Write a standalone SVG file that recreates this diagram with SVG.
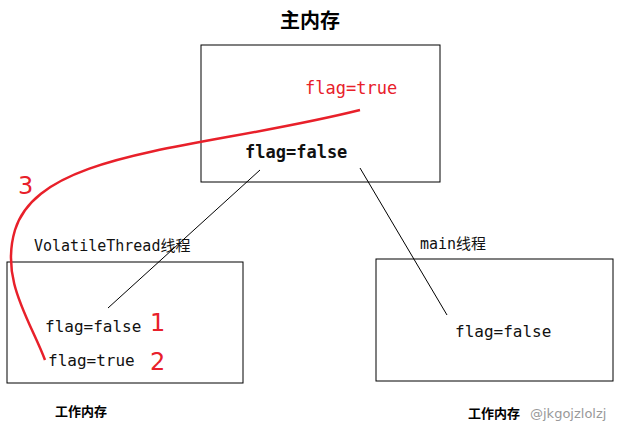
<svg xmlns="http://www.w3.org/2000/svg" width="623" height="432" viewBox="0 0 623 432">
<style>
.box{fill:none;stroke:#000;stroke-width:1}
.m{font-family:"DejaVu Sans Mono",monospace;font-size:17px;fill:#111}
.s{font-size:16px}
.c{font-family:"DejaVu Sans Mono","Noto Sans CJK SC",monospace;font-size:15px;fill:#111}
.r{fill:#e8202a}
.n{font-family:"DejaVu Sans",sans-serif;font-size:24px;fill:#e8202a}
</style>
<rect width="623" height="432" fill="#fff"/>
<g id="main-memory">
<text x="310" y="28" text-anchor="middle" font-family="Noto Sans CJK SC,sans-serif" font-weight="bold" font-size="20">主内存</text>
<rect class="box" x="201" y="45" width="239" height="137"/>
<text class="m r" x="305" y="94">flag=true</text>
<text class="m" x="245" y="158" font-weight="bold">flag=false</text>
</g>
<g id="volatile-thread">
<text class="c" x="34" y="251">VolatileThread线程</text>
<rect class="box" x="7" y="262" width="236" height="121"/>
<text class="m s" x="45" y="332">flag=false</text>
<text class="n" x="150" y="331">1</text>
<text class="m s" x="48" y="366">flag=true</text>
<text class="n" x="150" y="370">2</text>
<text x="55" y="416" font-family="Noto Sans CJK SC,sans-serif" font-weight="bold" font-size="13">工作内存</text>
</g>
<g id="main-thread">
<text class="c" x="420" y="249">main线程</text>
<rect class="box" x="376" y="259" width="237" height="122"/>
<text class="m s" x="455" y="337">flag=false</text>
<text x="468" y="418" font-family="Noto Sans CJK SC,sans-serif" font-weight="bold" font-size="13">工作内存</text>
<text x="530" y="418" font-family="DejaVu Sans,sans-serif" font-size="13" fill="#999">@jkgojzlolzj</text>
</g>
<g id="connectors" fill="none">
<line x1="260" y1="170" x2="108" y2="308" stroke="#000"/>
<line x1="360" y1="168" x2="447" y2="315" stroke="#000"/>
<path d="M360 110 C200 150 40 150 15 230 C0 280 30 320 45 360" stroke="#e8202a" stroke-width="2.5"/>
<text class="n" x="18" y="194" font-size="22">3</text>
</g>
</svg>
